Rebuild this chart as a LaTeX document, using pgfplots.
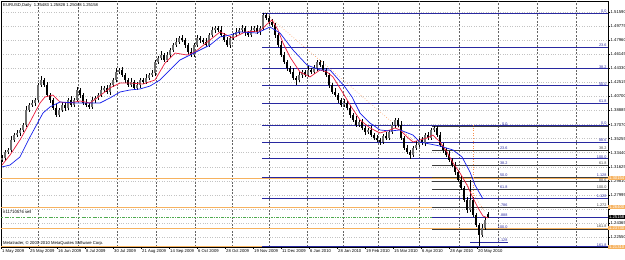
\documentclass[border=0pt]{standalone}
\usepackage{fontspec}
\setmainfont{Liberation Sans}
\usepackage{pgfplots}
\usepackage{pgfplotstable}
\pgfplotsset{compat=1.18}
\definecolor{fibA}{RGB}{40,40,160}
\definecolor{fibB}{RGB}{60,60,60}
\definecolor{ordr}{RGB}{246,178,95}
\definecolor{grn}{RGB}{80,170,80}
\definecolor{maR}{RGB}{235,30,60}
\definecolor{maB}{RGB}{20,30,235}
\definecolor{gridc}{RGB}{195,195,195}
\definecolor{sepc}{RGB}{100,100,100}
\definecolor{bull}{RGB}{110,110,110}
\newcommand\tf{\fontsize{4.2}{5}\selectfont}
\newcommand\ff{\fontsize{3.8}{4.5}\selectfont}
\tikzset{fl/.style={anchor=south east, inner sep=0.4pt, text=fibA, font=\ff},
         fk/.style={anchor=south east, inner sep=0.4pt, text=black!75, font=\ff},
         bx/.style={fill=ordr, text=white, anchor=west, inner sep=0.3pt, minimum width=17pt, font=\tf}}
\pgfplotstableread{
x o h l c
2 1.3250 1.3316 1.3230 1.3276
5 1.3276 1.3373 1.3236 1.3353
8 1.3353 1.3409 1.3323 1.3379
11 1.3379 1.3558 1.3359 1.3508
14 1.3508 1.3592 1.3478 1.3572
17 1.3572 1.3638 1.3552 1.3598
20 1.3598 1.3657 1.3558 1.3637
23 1.3637 1.3731 1.3607 1.3701
26 1.3701 1.3945 1.3681 1.3895
29 1.3895 1.3979 1.3865 1.3959
32 1.3959 1.4025 1.3939 1.3985
35 1.3985 1.4044 1.3945 1.4024
38 1.4024 1.4247 1.3994 1.4217
41 1.4217 1.4332 1.4197 1.4282
44 1.4282 1.4302 1.4187 1.4217
47 1.4217 1.4257 1.4068 1.4088
50 1.4088 1.4108 1.3984 1.4024
53 1.4024 1.4054 1.3891 1.3921
56 1.3921 1.3971 1.3810 1.3830
59 1.3830 1.3915 1.3800 1.3895
62 1.3895 1.3999 1.3875 1.3959
65 1.3959 1.3979 1.3881 1.3921
68 1.3921 1.4054 1.3891 1.4024
71 1.4024 1.4074 1.3939 1.3959
74 1.3959 1.4044 1.3929 1.4024
77 1.4024 1.4193 1.4004 1.4153
80 1.4153 1.4173 1.4048 1.4088
83 1.4088 1.4118 1.3955 1.3985
86 1.3985 1.4035 1.3939 1.3959
89 1.3959 1.3979 1.3904 1.3934
92 1.3934 1.4064 1.3914 1.4024
95 1.4024 1.4070 1.3984 1.4050
98 1.4050 1.4118 1.4020 1.4088
101 1.4088 1.4203 1.4068 1.4153
104 1.4153 1.4199 1.4123 1.4179
107 1.4179 1.4219 1.4107 1.4127
110 1.4127 1.4237 1.4087 1.4217
113 1.4217 1.4312 1.4187 1.4282
116 1.4282 1.4435 1.4262 1.4385
119 1.4385 1.4431 1.4355 1.4411
122 1.4411 1.4451 1.4326 1.4346
125 1.4346 1.4366 1.4242 1.4282
128 1.4282 1.4312 1.4187 1.4217
131 1.4217 1.4306 1.4197 1.4256
134 1.4256 1.4276 1.4149 1.4179
137 1.4179 1.4257 1.4159 1.4217
140 1.4217 1.4302 1.4177 1.4282
143 1.4282 1.4312 1.4226 1.4256
146 1.4256 1.4358 1.4236 1.4308
149 1.4308 1.4366 1.4278 1.4346
152 1.4346 1.4412 1.4326 1.4372
155 1.4372 1.4534 1.4332 1.4514
158 1.4514 1.4596 1.4484 1.4566
161 1.4566 1.4654 1.4546 1.4604
164 1.4604 1.4624 1.4510 1.4540
167 1.4540 1.4644 1.4520 1.4604
170 1.4604 1.4689 1.4564 1.4669
173 1.4669 1.4763 1.4639 1.4733
176 1.4733 1.4822 1.4713 1.4772
179 1.4772 1.4844 1.4742 1.4824
182 1.4824 1.4864 1.4778 1.4798
185 1.4798 1.4818 1.4693 1.4733
188 1.4733 1.4763 1.4613 1.4643
191 1.4643 1.4693 1.4584 1.4604
194 1.4604 1.4753 1.4574 1.4733
197 1.4733 1.4864 1.4713 1.4824
200 1.4824 1.4844 1.4758 1.4798
203 1.4798 1.4828 1.4742 1.4772
206 1.4772 1.4822 1.4713 1.4733
209 1.4733 1.4882 1.4703 1.4862
212 1.4862 1.4967 1.4842 1.4927
215 1.4927 1.4973 1.4887 1.4953
218 1.4953 1.4983 1.4897 1.4927
221 1.4927 1.4977 1.4842 1.4862
224 1.4862 1.4882 1.4768 1.4798
227 1.4798 1.4838 1.4713 1.4733
230 1.4733 1.4844 1.4693 1.4824
233 1.4824 1.4892 1.4794 1.4862
236 1.4862 1.4951 1.4842 1.4901
239 1.4901 1.4947 1.4871 1.4927
242 1.4927 1.4993 1.4907 1.4953
245 1.4953 1.4973 1.4848 1.4888
248 1.4888 1.4918 1.4832 1.4862
251 1.4862 1.4977 1.4842 1.4927
254 1.4927 1.4973 1.4897 1.4953
257 1.4953 1.4993 1.4881 1.4901
260 1.4901 1.4973 1.4861 1.4953
263 1.4953 1.5140 1.4923 1.5120
266 1.5120 1.5145 1.5062 1.5082
269 1.5082 1.5102 1.5000 1.5030
272 1.5030 1.5070 1.4971 1.4991
275 1.4991 1.5021 1.4822 1.4862
278 1.4862 1.4892 1.4703 1.4733
281 1.4733 1.4783 1.4584 1.4604
284 1.4604 1.4644 1.4494 1.4514
287 1.4514 1.4534 1.4397 1.4437
290 1.4437 1.4467 1.4355 1.4385
293 1.4385 1.4435 1.4288 1.4308
296 1.4308 1.4328 1.4220 1.4282
299 1.4282 1.4386 1.4262 1.4346
302 1.4346 1.4405 1.4306 1.4385
305 1.4385 1.4415 1.4316 1.4346
308 1.4346 1.4461 1.4326 1.4411
311 1.4411 1.4431 1.4355 1.4385
314 1.4385 1.4477 1.4363 1.4437
317 1.4437 1.4534 1.4397 1.4514
320 1.4514 1.4544 1.4445 1.4475
323 1.4475 1.4525 1.4391 1.4411
326 1.4411 1.4431 1.4316 1.4346
329 1.4346 1.4366 1.4177 1.4217
332 1.4217 1.4247 1.4097 1.4127
335 1.4127 1.4177 1.4068 1.4088
338 1.4088 1.4108 1.3984 1.4024
341 1.4024 1.4054 1.3929 1.3959
344 1.3959 1.4035 1.3939 1.3985
347 1.3985 1.4005 1.3901 1.3921
350 1.3921 1.3961 1.3790 1.3830
353 1.3830 1.3860 1.3736 1.3766
356 1.3766 1.3816 1.3681 1.3701
359 1.3701 1.3760 1.3671 1.3740
362 1.3740 1.3780 1.3643 1.3663
365 1.3663 1.3683 1.3571 1.3611
368 1.3611 1.3667 1.3581 1.3637
371 1.3637 1.3687 1.3552 1.3572
374 1.3572 1.3592 1.3504 1.3534
377 1.3534 1.3574 1.3488 1.3508
380 1.3508 1.3528 1.3442 1.3482
383 1.3482 1.3589 1.3452 1.3559
386 1.3559 1.3609 1.3514 1.3534
389 1.3534 1.3631 1.3504 1.3611
392 1.3611 1.3741 1.3591 1.3701
395 1.3701 1.3786 1.3661 1.3766
398 1.3766 1.3796 1.3671 1.3701
401 1.3701 1.3751 1.3514 1.3534
404 1.3534 1.3554 1.3375 1.3405
407 1.3405 1.3445 1.3333 1.3353
410 1.3353 1.3373 1.3267 1.3314
413 1.3314 1.3435 1.3284 1.3405
416 1.3405 1.3493 1.3385 1.3443
419 1.3443 1.3528 1.3413 1.3508
422 1.3508 1.3548 1.3449 1.3469
425 1.3469 1.3602 1.3429 1.3572
428 1.3572 1.3612 1.3504 1.3534
431 1.3534 1.3667 1.3514 1.3637
434 1.3637 1.3690 1.3607 1.3663
437 1.3663 1.3683 1.3542 1.3572
440 1.3572 1.3612 1.3413 1.3443
443 1.3443 1.3463 1.3339 1.3379
446 1.3379 1.3409 1.3284 1.3314
449 1.3314 1.3364 1.3230 1.3250
452 1.3250 1.3270 1.3155 1.3185
455 1.3185 1.3225 1.3055 1.3095
458 1.3095 1.3125 1.2962 1.2992
461 1.2992 1.3042 1.2869 1.2889
464 1.2889 1.2909 1.2704 1.2734
467 1.2734 1.2774 1.2565 1.2605
470 1.2605 1.2994 1.2585 1.2734
473 1.2734 1.2774 1.2510 1.2540
476 1.2540 1.2571 1.2381 1.2411
479 1.2411 1.2431 1.2142 1.2282
482 1.2282 1.2423 1.2252 1.2373
485 1.2373 1.2516 1.2353 1.2476
488 1.2548 1.2583 1.2505 1.2516
}\candles
\begin{document}
\begin{tikzpicture}
\path[use as bounding box] (0pt,0pt) rectangle (625pt,260pt);
\begin{axis}[at={(1pt,13pt)}, anchor=south west, width=607pt, height=246pt, scale only axis,
  xmin=1, xmax=608, ymin=1.21275, ymax=1.53009, clip=false,
  axis line style={black, line width=0.5pt},
  tick align=outside, major tick length=2pt,
  tick style={black, line width=0.4pt},
  ytick={1.51590,1.49775,1.47960,1.46145,1.44330,1.42515,1.40700,1.38885,1.37070,1.35255,1.33440,1.31625,1.29810,1.27995,1.26180,1.24365,1.22550},
  yticklabels={1.51590,1.49775,1.47960,1.46145,1.44330,1.42515,1.40700,1.38885,1.37070,1.35255,1.33440,1.31625,1.29810,1.27995,{},1.24365,1.22550},
  yticklabel pos=right, ytick pos=right,
  yticklabel style={font=\tf, inner sep=0.5pt},
  ymajorgrids, grid style={gridc, dotted, line width=0.4pt},
  xtick={1,29,57,85,113,141,169,197,225,253,281,309,337,365,393,421,449,477},
  xticklabels={1 May 2009,25 May 2009,16 Jun 2009,8 Jul 2009,30 Jul 2009,21 Aug 2009,14 Sep 2009,6 Oct 2009,28 Oct 2009,19 Nov 2009,11 Dec 2009,6 Jan 2010,28 Jan 2010,19 Feb 2010,15 Mar 2010,6 Apr 2010,28 Apr 2010,20 May 2010},
  xtick pos=bottom,
  xticklabel style={font=\tf, anchor=north west, inner sep=1pt, yshift=1pt},
  extra x ticks={38,78,117,156,195,232,269,307,343,378,419,459,498,537,576},
  extra x tick labels={},
  extra x tick style={grid=major, major tick length=0pt, major grid style={sepc, dash pattern=on 2pt off 1.5pt, line width=0.5pt}},
]
% order / price lines
\addplot[ordr, line width=0.9pt] coordinates {(1,1.3017) (608,1.3017)};
\addplot[ordr, line width=0.9pt] coordinates {(1,1.2640) (608,1.2640)};
\addplot[ordr, line width=0.9pt] coordinates {(1,1.2373) (608,1.2373)};
\addplot[ordr, line width=0.9pt] coordinates {(1,1.2131) (608,1.2131)};
\addplot[grn, line width=0.5pt, dash pattern=on 2.5pt off 1.2pt on 0.6pt off 1.2pt] coordinates {(1,1.2515) (608,1.2515)};
% fib set A (from the November high)
\addplot[fibA, line width=1.1pt] coordinates {(262,1.5145) (608,1.5145)};
\addplot[fibA, line width=1.1pt] coordinates {(262,1.4702) (608,1.4702)};
\addplot[fibA, line width=1.1pt] coordinates {(262,1.4428) (608,1.4428)};
\addplot[fibA, line width=1.1pt] coordinates {(262,1.4206) (608,1.4206)};
\addplot[fibA, line width=1.1pt] coordinates {(262,1.3984) (608,1.3984)};
\addplot[fibA, line width=1.1pt] coordinates {(262,1.3700) (608,1.3700)};
\addplot[fibA, line width=1.1pt] coordinates {(262,1.3481) (608,1.3481)};
\addplot[fibA, line width=1.1pt] coordinates {(262,1.3267) (608,1.3267)};
\addplot[fibA, line width=1.1pt] coordinates {(262,1.3027) (608,1.3027)};
\addplot[fibA, line width=1.1pt] coordinates {(262,1.2756) (608,1.2756)};
\addplot[fibA, line width=1.1pt] coordinates {(262,1.2131) (608,1.2131)};
% fib sets B and C (from the April high)
\addplot[fibB, line width=0.7pt] coordinates {(432,1.3690) (608,1.3690)};
\addplot[fibB, line width=0.7pt] coordinates {(432,1.3376) (608,1.3376)};
\addplot[fibB, line width=0.7pt] coordinates {(432,1.3182) (608,1.3182)};
\addplot[fibB, line width=0.7pt] coordinates {(432,1.3025) (608,1.3025)};
\addplot[fibB, line width=0.7pt] coordinates {(432,1.2969) (608,1.2969)};
\addplot[fibB, line width=0.7pt] coordinates {(432,1.2868) (608,1.2868)};
\addplot[fibB, line width=0.7pt] coordinates {(432,1.2645) (608,1.2645)};
\addplot[fibA, line width=0.7pt] coordinates {(432,1.2512) (608,1.2512)};
\addplot[fibB, line width=0.7pt] coordinates {(432,1.2360) (608,1.2360)};
\addplot[fibA, line width=0.7pt] coordinates {(470,1.2190) (508,1.2190)};
% trend lines
\addplot[ordr!80!red, dotted, line width=0.6pt] coordinates {(266,1.5133) (413,1.3508)};
\addplot[ordr!80!red, dotted, line width=0.6pt] coordinates {(440,1.3469) (485,1.2579)};
\addplot[ordr!80!red, dotted, line width=0.6pt] coordinates {(473,1.3701) (473,1.2669)};
% candles: wicks, bear bodies (black), bull bodies (grey)
\addplot[draw=none, mark=none, error bars/.cd, y dir=both, y explicit, error mark=none,
  error bar style={draw=black, solid, line width=0.4pt}]
  table[x=x, y expr={(\thisrow{h}+\thisrow{l})/2}, y error expr={(\thisrow{h}-\thisrow{l})/2}] {\candles};
\addplot[draw=none, mark=none, x filter/.expression={\thisrow{c}>\thisrow{o} ? nan : x},
  error bars/.cd, y dir=both, y explicit, error mark=none,
  error bar style={draw=black, solid, line width=1.3pt}]
  table[x=x, y expr={(\thisrow{o}+\thisrow{c})/2}, y error expr={max(abs(\thisrow{c}-\thisrow{o})/2,0.0004)}] {\candles};
\addplot[draw=none, mark=none, x filter/.expression={\thisrow{c}>\thisrow{o} ? x : nan},
  error bars/.cd, y dir=both, y explicit, error mark=none,
  error bar style={draw=bull, solid, line width=1.3pt}]
  table[x=x, y expr={(\thisrow{o}+\thisrow{c})/2}, y error expr={max(abs(\thisrow{c}-\thisrow{o})/2,0.0004)}] {\candles};
% moving averages
\addplot[maR, line width=0.7pt] coordinates {(2,1.3185) (10,1.3314) (20,1.3508) (30,1.3740) (40,1.3985) (45,1.4063) (53,1.4088) (60,1.3998) (70,1.3985) (80,1.4011) (90,1.3985) (97,1.4050) (110,1.4179) (120,1.4243) (130,1.4243) (143,1.4230) (155,1.4282) (165,1.4501) (175,1.4630) (187,1.4604) (195,1.4643) (200,1.4695) (210,1.4798) (220,1.4901) (233,1.4824) (245,1.4901) (260,1.4914) (266,1.4991) (272,1.5056) (278,1.4927) (283,1.4759) (290,1.4578) (300,1.4385) (310,1.4321) (320,1.4411) (327,1.4385) (333,1.4321) (343,1.4114) (352,1.3921) (360,1.3766) (370,1.3663) (380,1.3598) (390,1.3637) (395,1.3663) (400,1.3637) (407,1.3547) (413,1.3482) (420,1.3508) (427,1.3534) (433,1.3572) (440,1.3482) (447,1.3353) (453,1.3211) (460,1.3082) (467,1.2927) (473,1.2760) (478,1.2631) (483,1.2527) (488,1.2502)};
\addplot[maB, line width=0.7pt] coordinates {(2,1.3160) (10,1.3185) (20,1.3289) (30,1.3547) (43,1.3856) (50,1.3934) (60,1.3998) (77,1.3985) (90,1.3985) (100,1.3985) (110,1.4050) (120,1.4127) (130,1.4153) (140,1.4166) (150,1.4204) (160,1.4282) (170,1.4411) (180,1.4540) (190,1.4604) (200,1.4669) (210,1.4733) (220,1.4837) (230,1.4862) (240,1.4901) (257,1.4888) (270,1.4965) (280,1.4888) (293,1.4669) (307,1.4475) (320,1.4411) (330,1.4411) (345,1.4191) (352,1.4063) (360,1.3856) (370,1.3727) (380,1.3637) (390,1.3624) (400,1.3637) (413,1.3572) (420,1.3482) (430,1.3456) (440,1.3430) (453,1.3379) (462,1.3289) (470,1.3095) (475,1.2927) (483,1.2747)};
% fib labels (right edge)
\node[fl] at (axis cs:607,1.5145) {0.0};
\node[fl] at (axis cs:607,1.4702) {23.6};
\node[fl] at (axis cs:607,1.4428) {38.2};
\node[fl] at (axis cs:607,1.4206) {50.0};
\node[fl] at (axis cs:607,1.3984) {61.8};
\node[fl] at (axis cs:607,1.3700) {0.0};
\node[fl] at (axis cs:607,1.3481) {88.6};
\node[fk] at (axis cs:607,1.3376) {38.2};
\node[fl] at (axis cs:607,1.3267) {100.0};
\node[fk] at (axis cs:607,1.3182) {61.8};
\node[fl] at (axis cs:607,1.3027) {1.128};
\node[fk] at (axis cs:607,1.2969) {88.6};
\node[fk] at (axis cs:607,1.2868) {100.0};
\node[fl] at (axis cs:607,1.2756) {1.128};
\node[fk] at (axis cs:607,1.2645) {1.272};
\node[fk] at (axis cs:607,1.2373) {161.8};
\node[fl] at (axis cs:607,1.2131) {161.8};
% fib labels (inner)
\node[fl] at (axis cs:508,1.3690) {0.0};
\node[fl] at (axis cs:508,1.3376) {23.6};
\node[fl] at (axis cs:508,1.3182) {38.2};
\node[fl] at (axis cs:508,1.3025) {50.0};
\node[fl] at (axis cs:508,1.2868) {61.8};
\node[fl] at (axis cs:508,1.2645) {.786};
\node[fl] at (axis cs:508,1.2512) {.888};
\node[fl] at (axis cs:508,1.2360) {100.0};
\node[fl] at (axis cs:508,1.2190) {1.128};
% right price boxes
\node[bx] at (axis cs:608,1.3017) {1.30154};
\node[bx] at (axis cs:608,1.2640) {1.26400};
\node[bx] at (axis cs:608,1.2373) {1.23730};
\node[bx] at (axis cs:608,1.2131) {1.21310};
\node[bx, fill=black] at (axis cs:608,1.2516) {1.25158};
\end{axis}
\node[anchor=west, font=\tf, inner sep=0pt] at (3pt,255pt) {EURUSD,Daily\ \ 1.25483 1.25828 1.25048 1.25158};
\node[anchor=west, font=\tf, inner sep=0pt] at (3pt,48pt) {\#11710576 sell};
\node[anchor=west, font=\tf, inner sep=0pt] at (3pt,16.5pt) {Metatrader, © 2001-2010 MetaQuotes Software Corp.};
\end{tikzpicture}
\end{document}
